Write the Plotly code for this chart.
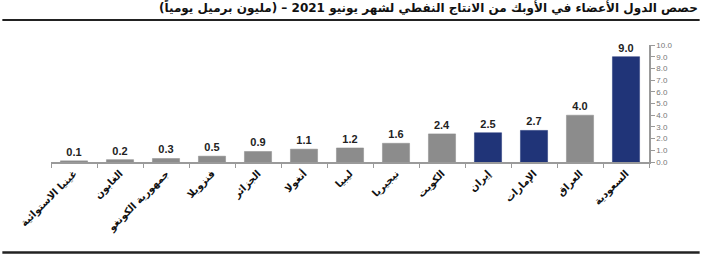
import plotly.graph_objects as go

categories = ["غينيا الاستوائية", "الغابون", "جمهورية الكونغو", "فنزويلا", "الجزائر",
              "أنغولا", "ليبيا", "نيجيريا", "الكويت", "إيران", "الإمارات", "العراق", "السعودية"]
values = [0.1, 0.2, 0.3, 0.5, 0.9, 1.1, 1.2, 1.6, 2.4, 2.5, 2.7, 4.0, 9.0]
highlight = [False, False, False, False, False, False, False, False, False, True, True, False, True]
y_ticks = [0, 1, 2, 3, 4, 5, 6, 7, 8, 9, 10]
title_text = "حصص الدول الأعضاء في الأوبك من الانتاج النفطي لشهر يونيو 2021 – (مليون برميل يومياً)"

GRAY = "#8c8c8c"
NAVY = "#203478"
colors = [NAVY if h else GRAY for h in highlight]

W, H = 702, 262
L, R, T, B = 50.7, 52.7, 45, 99.7
pw, ph = W - L - R, H - T - B

def px_x(p):
    return (p - L) / pw

def px_y(p):
    return (H - B - p) / ph

fig = go.Figure(go.Bar(
    x=categories, y=values,
    marker=dict(color=colors, line=dict(color=colors, width=0.5)),
    text=[f"{v:.1f}" for v in values],
    textposition="outside",
    textfont=dict(family="Liberation Sans, Arial", size=11, color="#222222"),
    texttemplate="<b>%{text}</b>",
    cliponaxis=False,
    width=0.59,
))

fig.update_layout(
    width=W, height=H,
    margin=dict(l=L, r=R, t=T, b=B, pad=0),
    plot_bgcolor="white", paper_bgcolor="white",
    showlegend=False,
    xaxis=dict(
        showline=True, linecolor="#9a9a9a", linewidth=1.5,
        ticks="outside", tickson="boundaries", ticklen=4, tickcolor="#9a9a9a",
        tickangle=-45,
        tickvals=categories,
        ticktext=["<b>" + c + "</b>" for c in categories],
        tickfont=dict(family="DejaVu Sans", size=10, color="#111111"),
        showgrid=False,
    ),
    yaxis=dict(
        side="right", range=[0, 10], tickvals=y_ticks,
        ticktext=[f"{v:.1f}" for v in y_ticks],
        showline=True, linecolor="#9a9a9a", linewidth=1.5,
        ticks="outside", ticklen=4, tickcolor="#9a9a9a",
        tickfont=dict(family="Liberation Sans, Arial", size=8, color="#777777"),
        showgrid=False, zeroline=False,
    ),
)

fig.add_annotation(
    text="<b>" + title_text + "</b>",
    xref="paper", yref="paper", x=px_x(700), y=px_y(18),
    xanchor="right", yanchor="bottom", showarrow=False,
    font=dict(family="DejaVu Sans", size=12, color="#111111"),
)

fig.add_shape(type="line", xref="paper", yref="paper",
              x0=px_x(2), x1=px_x(700), y0=px_y(20), y1=px_y(20),
              line=dict(color="#222222", width=2))
fig.add_shape(type="line", xref="paper", yref="paper",
              x0=px_x(2), x1=px_x(700), y0=px_y(253), y1=px_y(253),
              line=dict(color="#222222", width=2.5))

fig.write_html("out.html")
